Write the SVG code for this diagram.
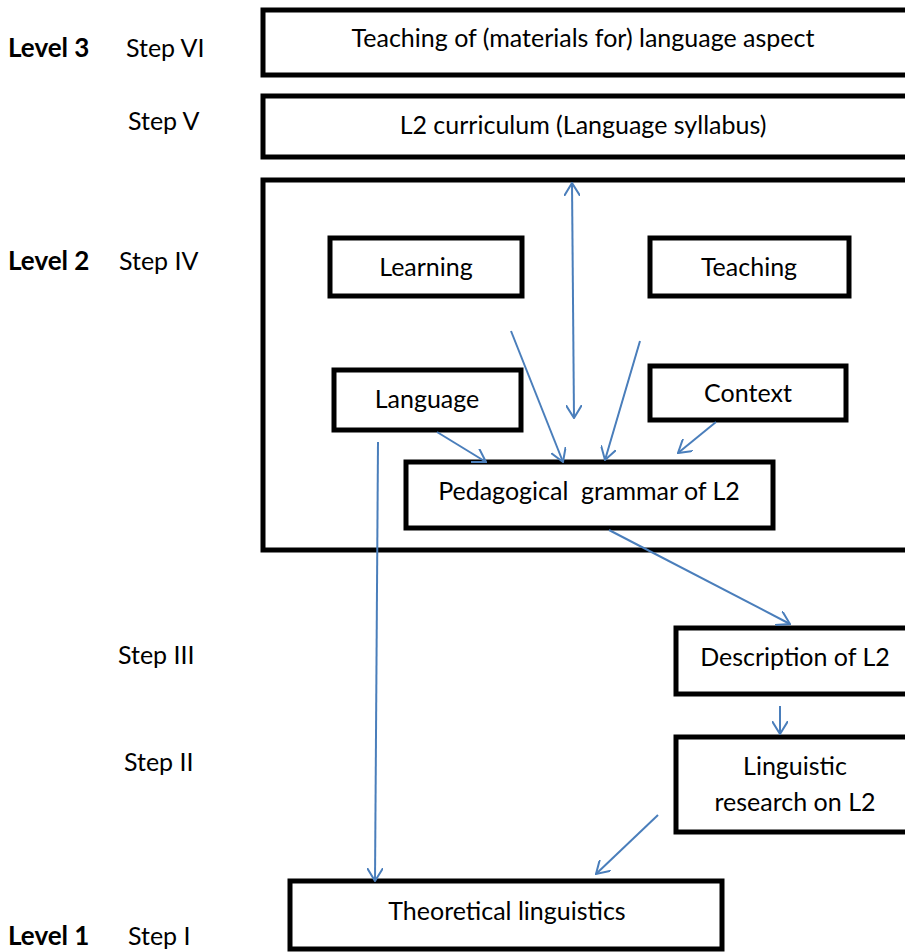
<svg xmlns="http://www.w3.org/2000/svg" width="905" height="952" viewBox="0 0 905 952">
<defs>
<style>
text{font-family:Lato,"Liberation Sans",sans-serif;font-size:25px;fill:#000}
.c{text-anchor:middle}
.b{font-weight:bold;font-size:26px}
.pre{white-space:pre}
rect{fill:#fff;stroke:#000;stroke-width:5}
.big{fill:none}
line{stroke:#4a7ebb;stroke-width:2}
</style>
<marker id="ah" viewBox="0 0 14 16" refX="13" refY="8" markerWidth="14" markerHeight="16" markerUnits="userSpaceOnUse" orient="auto-start-reverse">
<path d="M0,0 L13,8 L0,16" fill="none" stroke="#4a7ebb" stroke-width="2"/>
</marker>
</defs>
<rect width="905" height="952" style="fill:#fff;stroke:none"/>
<g id="labels">
<text x="8" y="57" class="b">Level 3</text>
<text x="126" y="57">Step VI</text>
<text x="128" y="130">Step V</text>
<text x="8" y="270" class="b">Level 2</text>
<text x="119" y="270">Step IV</text>
<text x="118" y="664">Step III</text>
<text x="124" y="771">Step II</text>
<text x="8" y="945" class="b">Level 1</text>
<text x="128" y="945">Step I</text>
</g>
<g id="n6"><rect x="263" y="10" width="650" height="65"/><text x="583" y="47" class="c">Teaching of (materials for) language aspect</text></g>
<g id="n5"><rect x="263" y="96" width="650" height="61"/><text x="583" y="134" class="c">L2 curriculum (Language syllabus)</text></g>
<g id="n4"><rect class="big" x="263" y="180" width="660" height="370"/></g>
<g id="learning"><rect x="330" y="238" width="192" height="58"/><text x="426" y="276" class="c">Learning</text></g>
<g id="teaching"><rect x="650" y="238" width="199" height="58"/><text x="749" y="276" class="c">Teaching</text></g>
<g id="language"><rect x="334" y="370" width="187" height="60"/><text x="427" y="408" class="c">Language</text></g>
<g id="context"><rect x="650" y="366" width="196" height="54"/><text x="748" y="402" class="c">Context</text></g>
<g id="pedagogical"><rect x="406" y="462" width="367" height="66"/><text x="589" y="500" class="c pre">Pedagogical  grammar of L2</text></g>
<g id="description"><rect x="676" y="628" width="240" height="66"/><text x="795" y="666" class="c">Description of L2</text></g>
<g id="research"><rect x="676" y="737" width="240" height="95"/><text x="795" y="775" class="c">Linguistic</text><text x="795" y="811" class="c">research on L2</text></g>
<g id="theoretical"><rect x="290" y="881" width="432" height="68"/><text x="507" y="920" class="c">Theoretical linguistics</text></g>
<g id="connectors">
<line x1="574" y1="418" x2="572" y2="183" marker-start="url(#ah)" marker-end="url(#ah)"/>
<line x1="511" y1="331" x2="563" y2="462" marker-end="url(#ah)"/>
<line x1="640" y1="341" x2="605" y2="460" marker-end="url(#ah)"/>
<line x1="437" y1="432" x2="486" y2="462" marker-end="url(#ah)"/>
<line x1="716" y1="422" x2="678" y2="453" marker-end="url(#ah)"/>
<line x1="378" y1="442" x2="375" y2="881" marker-end="url(#ah)"/>
<line x1="609" y1="530" x2="790" y2="624" marker-end="url(#ah)"/>
<line x1="780" y1="706" x2="780" y2="734" marker-end="url(#ah)"/>
<line x1="658" y1="815" x2="596" y2="874" marker-end="url(#ah)"/>
</g>
</svg>
